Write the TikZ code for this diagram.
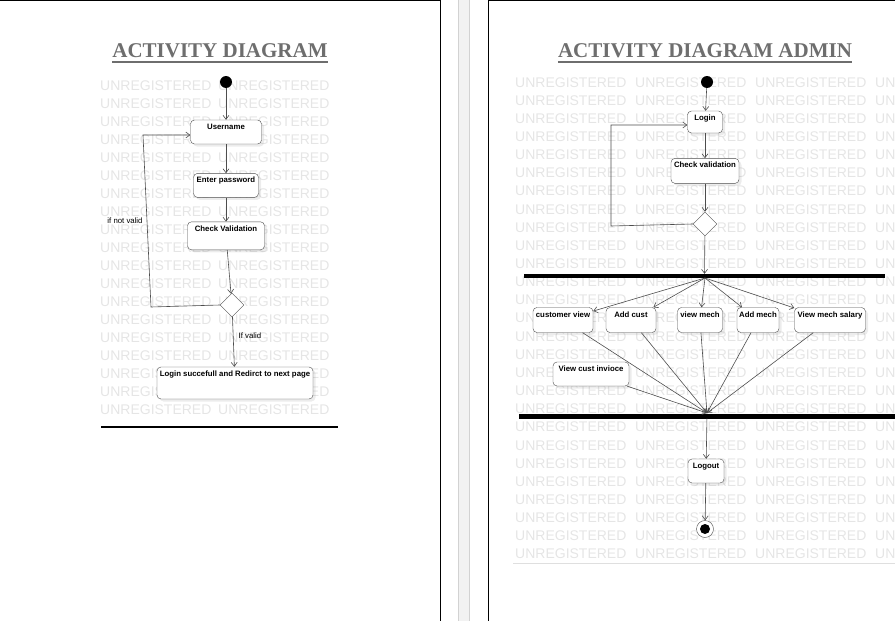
\documentclass[tikz,border=0pt]{standalone}
\usepackage{fontspec}
\setmainfont{Liberation Serif}
\setsansfont{Liberation Sans}
\usepackage{xcolor}
\usetikzlibrary{arrows.meta,positioning,calc,shapes.geometric,shadows}

\definecolor{linegray}{HTML}{4D4D4D}
\definecolor{titlegray}{HTML}{6E6E6E}

\begin{document}
\begin{tikzpicture}[
  x=1pt, y=-1pt,
  font=\sffamily,
  act/.style={draw=linegray,fill=white,rounded corners=4pt,inner xsep=2pt,inner ysep=3pt,
    text height=6.5pt,text depth=11.5pt,font=\fontsize{7.8}{9}\selectfont\sffamily\bfseries,
    drop shadow={opacity=0.15,shadow xshift=2.5pt,shadow yshift=-2.5pt}},
  decision/.style={draw=linegray,fill=white,shape=diamond,minimum width=24pt,minimum height=24pt,inner sep=0pt},
  initnode/.style={circle,fill=black,minimum size=12pt,inner sep=0pt},
  finalnode/.style={circle,draw=linegray,fill=white,minimum size=17pt,inner sep=0pt,
    path picture={\fill[black] (path picture bounding box.center) circle (5pt);}},
  bar/.style={fill=black,inner sep=0pt},
  guard/.style={font=\fontsize{7.8}{9}\selectfont\sffamily,inner sep=1pt},
  pagetitle/.style={font=\fontsize{21}{21}\selectfont\rmfamily\bfseries,text=titlegray,inner sep=0pt,anchor=base},
  watermark/.style={font=\fontsize{14}{14}\selectfont\sffamily,text=gray!20,inner sep=0pt,anchor=base west},
  arrow/.style={-{Straight Barb[length=4pt,width=6pt]},draw=linegray,line width=0.6pt}
]
\useasboundingbox (0,0) rectangle (895,621);

% watermark rows
\begin{scope}
  \clip (0,0) rectangle (895,621);
  \foreach \r in {0,...,18}
    \foreach \c in {100,218}
      \node[watermark] (wmL-\r-\c) at ({\c},{90+18.05*\r}) {UNREGISTERED};
  \foreach \r in {0,...,26}
    \foreach \c in {515,635,755,875}
      \node[watermark] (wmR-\r-\c) at ({\c},{87+18.15*\r}) {UNREGISTERED};
\end{scope}

% page frames
\draw[line width=1pt] (0,0.5) -- (440.5,0.5) -- (440.5,621);
\draw[gray!35,fill=gray!10] (458.5,-1) rectangle (469.5,622);
\draw[line width=1pt] (488,621) -- (488,0.5) -- (895,0.5);

% titles
\node[pagetitle] (title1) at (220,57) {ACTIVITY DIAGRAM};
\node[pagetitle] (title2) at (705,57) {ACTIVITY DIAGRAM ADMIN};
\draw[titlegray,line width=1.3pt] ($(title1.base west)+(0,5)$) -- ($(title1.base east)+(0,5)$);
\draw[titlegray,line width=1.3pt] ($(title2.base west)+(0,5)$) -- ($(title2.base east)+(0,5)$);

% user login flow
\node[initnode] (start1) at (226,82) {};
\node[act,minimum width=71pt] (username) at (226,132) {Username};
\node[act,minimum width=65pt,below=29pt of username] (enterpw) {Enter password};
\node[act,minimum width=77pt,text depth=15.5pt,below=24pt of enterpw] (checkval) {Check Validation};
\node[decision] (dec1) at (232,305) {};
\node[act,minimum width=156pt,text depth=19.5pt] (loginok) at (235,383) {Login succefull and Redirct to next page};
\coordinate (loopA) at (151,307);
\coordinate (loopB) at (143,135);
\node[guard] (notvalid) at (125,221) {if not valid};
\node[guard] (valid) at (250,336) {If valid};

\draw[arrow] (start1) -- (username);
\draw[arrow] (username) -- (enterpw);
\draw[arrow] (enterpw) -- (checkval);
\draw[arrow] (checkval) -- (dec1);
\draw[arrow] (dec1) -- (loginok);
\draw[arrow] (dec1.west) -- (loopA) -- (loopB) -- (loopB -| username.west);
\draw[line width=1.1pt] (101,427) -- (338,427);

% admin flow
\node[initnode] (start2) at (707,82) {};
\node[act,minimum width=35pt,text depth=9.5pt] (login) at (705,122) {Login};
\node[act,minimum width=68pt,text depth=12.5pt,below=25pt of login] (checkv) {Check validation};
\node[decision] (dec2) at (705,224) {};
\node[bar,minimum width=361pt,minimum height=4pt] (fork) at (704.5,276) {};
\coordinate (forkpt) at (705,278);
\coordinate (loopC) at (611,226);
\coordinate (loopD) at (611,125);

\node[act,minimum width=60pt,text depth=12.5pt] (custview) at (563,320) {customer view};
\node[act,minimum width=50pt,text depth=12.5pt] (addcust) at (631,320) {Add cust};
\node[act,minimum width=45pt,text depth=12.5pt] (viewmech) at (700,320) {view mech};
\node[act,minimum width=42pt,text depth=12.5pt] (addmech) at (758,320) {Add mech};
\node[act,minimum width=71pt,text depth=12.5pt] (mechsalary) at (830,320) {View mech salary};
\node[act,minimum width=76pt] (invoice) at (591,374) {View cust invioce};

\node[bar,minimum width=376pt,minimum height=5pt] (join) at (707,416) {};
\coordinate (joinpt) at (707,413);
\node[act,minimum width=36pt] (logout) at (706,471) {Logout};
\node[finalnode] (end) at (705,529) {};

\draw[arrow] (start2) -- (login);
\draw[arrow] (login) -- (checkv);
\draw[arrow] (checkv) -- (dec2);
\draw[arrow] (dec2) -- (fork);
\draw[arrow] (dec2.west) -- (loopC) -- (loopD) -- (loopD -| login.west);
\foreach \b in {custview,addcust,viewmech,addmech,mechsalary}
  \draw[arrow] (forkpt) -- (\b);
\foreach \b in {custview,addcust,viewmech,addmech,mechsalary,invoice}
  \draw[arrow] (\b) -- (joinpt);
\draw[arrow] (join) -- (logout);
\draw[arrow] (logout) -- (end);
\draw[gray!25,line width=1pt] (513,563) -- (895,563);
\end{tikzpicture}
\end{document}
